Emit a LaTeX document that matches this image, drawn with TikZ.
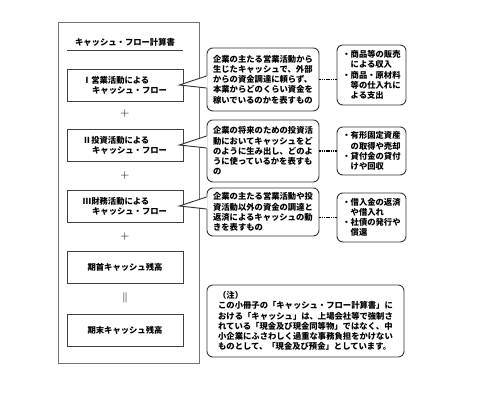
\documentclass[tikz,border=0pt]{standalone}
\usepackage{fontspec}
\setmainfont{Noto Sans CJK JP}
\usetikzlibrary{calc}
\begin{document}
\begin{tikzpicture}[x=0.03cm,y=-0.03cm,
  txt/.style={font=\fontsize{7.1}{8.7}\selectfont\bfseries},
  lbox/.style={txt,draw=black!75,line width=0.75pt,minimum width=3.48cm,minimum height=0.96cm,align=left},
  note/.style={txt,draw=black!80,line width=0.8pt,rounded corners=5pt,align=left,inner sep=1pt},
  link/.style={black,line width=1.7pt,dash pattern=on 1.3pt off 0.6pt}]
\useasboundingbox (0,0) rectangle (500,400);
% outer frame
\draw[black!55,line width=0.8pt] (58,22) rectangle (199,363);
\node[txt] (title) at (125,42) {キャッシュ・フロー計算書};
\draw[black!75,line width=0.6pt] (67,50) -- (183,50);
% left column
\node[lbox] (op) at (125,85) {Ⅰ営業活動による\\\hspace{1.1em}キャッシュ・フロー};
\node[lbox] (inv) at (125,145) {Ⅱ投資活動による\\\hspace{1.1em}キャッシュ・フロー};
\node[lbox] (fin) at (125,206) {Ⅲ財務活動による\\\hspace{1.1em}キャッシュ・フロー};
\node[lbox] (beg) at (125,267.5) {期首キャッシュ残高};
\node[lbox] (end) at (125,330) {期末キャッシュ残高};
\foreach \y/\n in {114/p1,176/p2,237/p3}
  \node[font=\fontsize{10}{12}\selectfont] (\n) at (125,\y) {$+$};
\node[font=\fontsize{9}{10}\selectfont] (eq) at (125,298) {$\|$};
% callouts
\node[note,minimum width=3.36cm,minimum height=1.89cm] (c1) at (263,79.5)
  {企業の主たる営業活動から\\生じたキャッシュで、外部\\からの資金調達に頼らず、\\本業からどのくらい資金を\\稼いでいるのかを表すもの};
\node[note,minimum width=3.36cm,minimum height=1.86cm] (c2) at (263,151)
  {企業の将来のための投資活\\動においてキャッシュをど\\のように生み出し、どのよ\\うに使っているかを表すも\\の};
\node[note,minimum width=3.36cm,minimum height=1.44cm] (c3) at (263,212)
  {企業の主たる営業活動や投\\資活動以外の資金の調達と\\返済によるキャッシュの動\\きを表すもの};
\foreach \b/\c in {op/c1,inv/c2,fin/c3}
{
  \fill[white] ($(\b.east)+(-4,0)$) -- ($(\b.east -| \c.west)+(1,-9)$) -- ($(\b.east -| \c.west)+(1,3)$) -- cycle;
  \draw[black!80,line width=0.8pt] ($(\b.east -| \c.west)+(0,-9)$) -- ($(\b.east)+(-4,0)$) -- ($(\b.east -| \c.west)+(0,3)$);
}
% right column
\node[note,minimum width=2.07cm,minimum height=1.8cm] (d1) at (371.5,75)
  {・商品等の販売\\\hspace{1em}による収入\\・商品・原材料\\\hspace{1em}等の仕入れに\\\hspace{1em}よる支出};
\node[note,minimum width=2.07cm,minimum height=1.44cm] (d2) at (371.5,151)
  {・有形固定資産\\\hspace{1em}の取得や売却\\・貸付金の貸付\\\hspace{1em}けや回収};
\node[note,minimum width=2.07cm,minimum height=1.47cm] (d3) at (371.5,217.5)
  {・借入金の返済\\\hspace{1em}や借入れ\\・社債の発行や\\\hspace{1em}償還};
\draw[link] (c1.east) -- (c1.east -| d1.west);
\draw[link] (c2.east) -- (c2.east -| d2.west);
\draw[link] (d3.west) -- (d3.west -| c3.east);
% note
\node[note,minimum width=5.91cm,minimum height=2.16cm] (rem) at (305.5,321)
  {（注）\\この小冊子の「キャッシュ・フロー計算書」に\\おける「キャッシュ」は、上場会社等で強制さ\\れている「現金及び現金同等物」ではなく、中\\小企業にふさわしく過重な事務負担をかけない\\ものとして、「現金及び預金」としています。};
\end{tikzpicture}
\end{document}
